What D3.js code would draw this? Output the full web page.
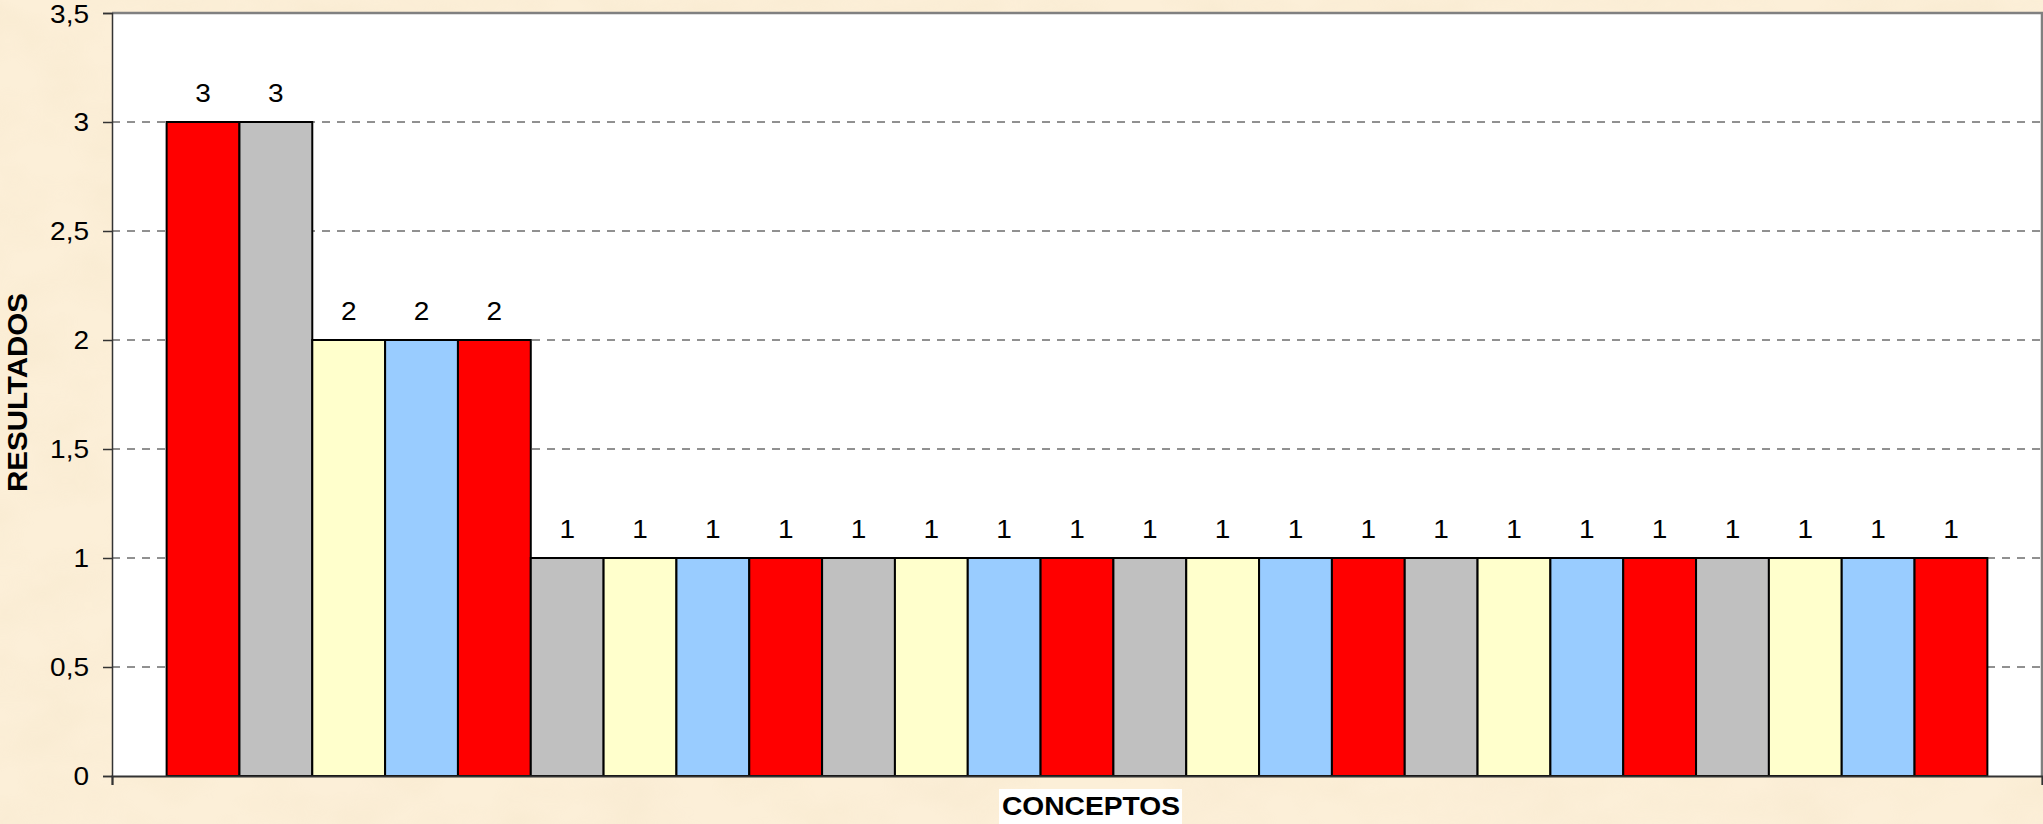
<!DOCTYPE html>
<html>
<head>
<meta charset="utf-8">
<script src="https://cdn.jsdelivr.net/npm/d3@7"></script>
<style>
  html, body { margin: 0; padding: 0; background: #FCEFD8; }
  svg { display: block; }
  text { font-family: "Liberation Sans", Arial, sans-serif; }
</style>
</head>
<body>
<svg id="chart" width="2043" height="824"></svg>
<script>
// ---- data ----
const seriesNames = ["Concepto 1","Concepto 2","Concepto 3","Concepto 4","Concepto 5",
  "Concepto 6","Concepto 7","Concepto 8","Concepto 9","Concepto 10",
  "Concepto 11","Concepto 12","Concepto 13","Concepto 14","Concepto 15",
  "Concepto 16","Concepto 17","Concepto 18","Concepto 19","Concepto 20",
  "Concepto 21","Concepto 22","Concepto 23","Concepto 24","Concepto 25"];
const seriesValues = [3, 3, 2, 2, 2, 1, 1, 1, 1, 1, 1, 1, 1, 1, 1, 1, 1, 1, 1, 1, 1, 1, 1, 1, 1];
const palette = ["#FF0000", "#C0C0C0", "#FFFFCC", "#99CCFF"];
const yTicks = [0, 0.5, 1, 1.5, 2, 2.5, 3, 3.5];
const yTitle = "RESULTADOS";
const xTitle = "CONCEPTOS";

// ---- layout ----
const W = 2043, H = 824;
const plot = { left: 112, right: 2042, top: 13, bottom: 776 };
const svg = d3.select("#chart");
const fmt = v => String(v).replace(".", ",");
const stretch = sel => sel.each(function () {
  const len = this.getComputedTextLength();
  if (len > 0) d3.select(this).attr("textLength", len * 1.12).attr("lengthAdjust", "spacingAndGlyphs");
});

// background texture
const defs = svg.append("defs");
const f = defs.append("filter").attr("id", "paper").attr("x", 0).attr("y", 0).attr("width", "100%").attr("height", "100%");
f.append("feTurbulence").attr("type", "fractalNoise").attr("baseFrequency", "0.012 0.02").attr("numOctaves", 3).attr("seed", 7).attr("result", "n");
f.append("feColorMatrix").attr("in", "n").attr("type", "matrix")
  .attr("values", "0 0 0 0 0.86  0 0 0 0 0.74  0 0 0 0 0.52  0 0 0 -1.4 0.95");
svg.append("rect").attr("width", W).attr("height", H).attr("fill", "#FCEFD8");
svg.append("rect").attr("width", W).attr("height", H).attr("filter", "url(#paper)").attr("opacity", 0.28);

// scales
const x = d3.scaleBand().domain(seriesNames).range([plot.left, plot.right]).paddingInner(0).paddingOuter(0.75);
const y = d3.scaleLinear().domain([0, 3.5]).range([plot.bottom, plot.top]);

// plot area
svg.append("rect").attr("x", plot.left).attr("y", plot.top)
  .attr("width", plot.right - plot.left).attr("height", plot.bottom - plot.top).attr("fill", "#FFFFFF");

// gridlines
svg.append("g").selectAll("line").data(yTicks.filter(t => t > 0 && t < 3.5)).join("line")
  .attr("x1", plot.left).attr("x2", plot.right)
  .attr("y1", d => y(d)).attr("y2", d => y(d))
  .attr("stroke", "#222").attr("stroke-width", 1).attr("stroke-dasharray", "8,7");

// frame top/right
svg.append("path")
  .attr("d", `M${plot.left},${plot.top} H${plot.right} V${plot.bottom}`)
  .attr("fill", "none").attr("stroke", "#808080").attr("stroke-width", 2.5);

// bars
svg.append("g").selectAll("rect").data(seriesValues).join("rect")
  .attr("x", (d, i) => x(seriesNames[i]))
  .attr("width", x.bandwidth())
  .attr("y", d => y(d))
  .attr("height", d => y(0) - y(d))
  .attr("fill", (d, i) => palette[i % palette.length])
  .attr("stroke", "#000").attr("stroke-width", 2);

// data labels
svg.append("g").selectAll("text").data(seriesValues).join("text")
  .attr("x", (d, i) => x(seriesNames[i]) + x.bandwidth() / 2)
  .attr("y", d => y(d) - 20)
  .attr("text-anchor", "middle")
  .attr("font-size", 25).attr("fill", "#000")
  .text(d => fmt(d))
  .call(stretch);

// y axis
const yAxis = d3.axisLeft(y).tickValues(yTicks).tickSize(9).tickPadding(14).tickFormat(fmt);
const gy = svg.append("g").attr("transform", `translate(${plot.left},0)`).call(yAxis);
gy.select(".domain").attr("stroke", "#333").attr("stroke-width", 1.5);
gy.selectAll(".tick line").attr("stroke", "#333").attr("stroke-width", 1.5);
gy.selectAll(".tick text").attr("font-size", 25).attr("fill", "#000")
  .attr("font-family", "'Liberation Sans', Arial, sans-serif")
  .call(stretch);
gy.select(".tick:last-of-type text").attr("dy", "0.36em");

// x axis (single category, ticks at both ends)
const xEdge = d3.scaleLinear().domain([0, 1]).range([plot.left, plot.right]);
const xAxis = d3.axisBottom(xEdge).tickValues([0, 1]).tickSize(9).tickFormat("");
const gx = svg.append("g").attr("transform", `translate(0,${plot.bottom})`).call(xAxis);
gx.select(".domain").attr("stroke", "#333").attr("stroke-width", 2);
gx.selectAll(".tick line").attr("stroke", "#333").attr("stroke-width", 1.5);

// x title with white box
const xt = svg.append("g");
xt.append("rect").attr("x", 999).attr("y", 789).attr("width", 183).attr("height", 40).attr("fill", "#FFFFFF");
xt.append("text").attr("x", 1091).attr("y", 815).attr("text-anchor", "middle")
  .attr("font-size", 26).attr("font-weight", "bold").attr("fill", "#000")
  .attr("textLength", 178).attr("lengthAdjust", "spacingAndGlyphs")
  .text(xTitle);

// y title
svg.append("text")
  .attr("transform", `translate(27,${(plot.top + plot.bottom) / 2 - 2}) rotate(-90)`)
  .attr("text-anchor", "middle")
  .attr("font-size", 28).attr("font-weight", "bold").attr("fill", "#000")
  .attr("textLength", 199).attr("lengthAdjust", "spacingAndGlyphs")
  .text(yTitle);
</script>
</body>
</html>
